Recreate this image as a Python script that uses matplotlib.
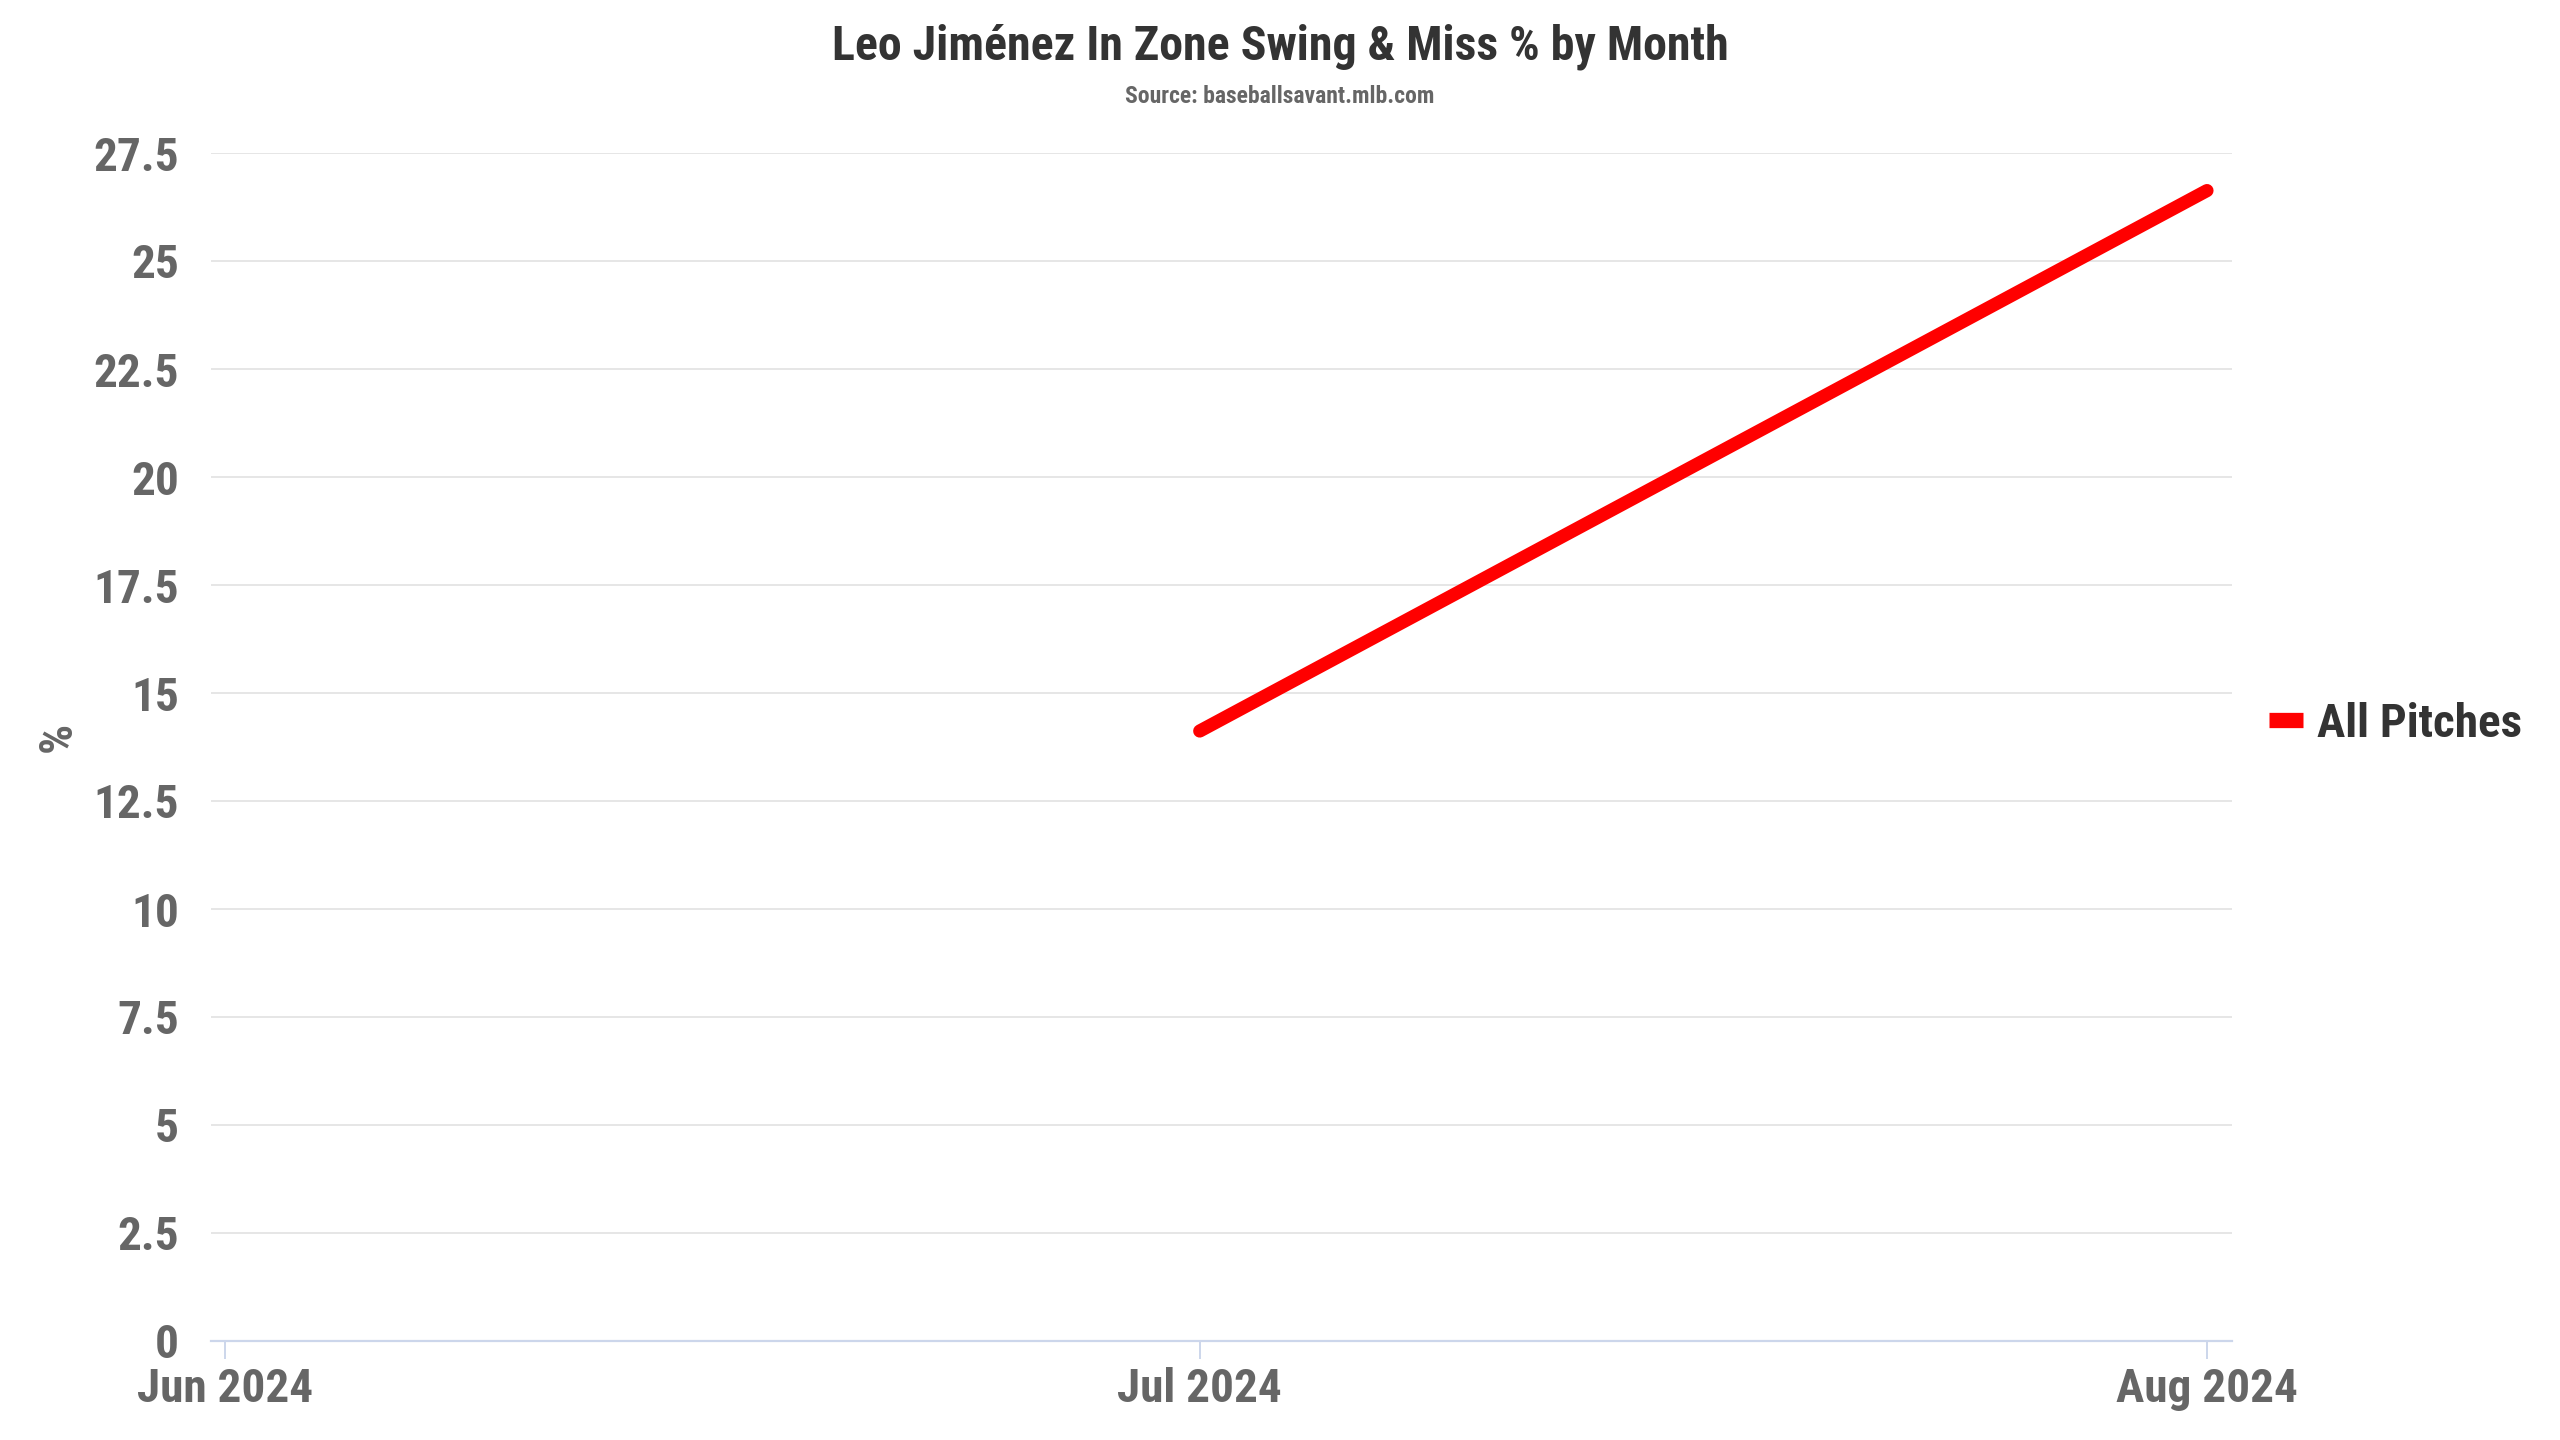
import datetime as dt
import matplotlib
matplotlib.use("Agg")
import matplotlib.pyplot as plt
import matplotlib.dates as mdates
from matplotlib import font_manager
from matplotlib.lines import Line2D

# ---- data ----
months = [dt.datetime(2024, 7, 1), dt.datetime(2024, 8, 1)]
all_pitches = [14.12, 26.63]
tick_dates = [dt.datetime(2024, 6, 1), dt.datetime(2024, 7, 1), dt.datetime(2024, 8, 1)]
tick_labels = ["Jun 2024", "Jul 2024", "Aug 2024"]
y_ticks = [0, 2.5, 5, 7.5, 10, 12.5, 15, 17.5, 20, 22.5, 25, 27.5]
y_tick_labels = ["0", "2.5", "5", "7.5", "10", "12.5", "15", "17.5", "20", "22.5", "25", "27.5"]
series_name = "All Pitches"
title = "Leo Jiménez In Zone Swing & Miss % by Month"
subtitle = "Source: baseballsavant.mlb.com"

names = {f.name for f in font_manager.fontManager.ttflist}
fam = "Roboto Condensed" if "Roboto Condensed" in names else "Roboto"
plt.rcParams["font.family"] = [fam, "DejaVu Sans"]
plt.rcParams["font.weight"] = "bold"

fig = plt.figure(figsize=(25.6, 14.4), dpi=100)
ax = fig.add_axes([211 / 2560, 1 - 1341 / 1440, (2232 - 211) / 2560, (1341 - 153) / 1440])

ax.plot(months, all_pitches, color="#ff0000", lw=9.5, solid_capstyle="round", zorder=3)

ax.set_ylim(0, 27.5)
x0 = mdates.date2num(tick_dates[0]) - 0.43
x1 = mdates.date2num(tick_dates[-1]) + 0.77
ax.set_xlim(x0, x1)

ax.set_yticks(y_ticks)
ax.set_yticklabels(y_tick_labels)
ax.set_xticks(tick_dates)
ax.set_xticklabels(tick_labels)

ax.grid(axis="y", color="#e6e6e6", lw=1.4, zorder=0)
ax.tick_params(axis="y", length=0, pad=23, labelsize=34, labelcolor="#666666")
ax.tick_params(axis="x", length=13, width=1.4, color="#ccd6eb", pad=6, labelsize=34, labelcolor="#666666")
for s in ["top", "right", "left"]:
    ax.spines[s].set_visible(False)
ax.spines["bottom"].set_color("#ccd6eb")
ax.spines["bottom"].set_linewidth(1.6)
for lab in ax.get_xticklabels() + ax.get_yticklabels():
    lab.set_fontweight("bold")

fig.text(58 / 2560, 1 - 737 / 1440, "%", rotation=90, ha="center", va="center",
         fontsize=34, color="#666666", fontweight="bold")

fig.text(0.5, 1 - 60 / 1440, title, ha="center", va="baseline", fontsize=34.5,
         color="#333333", fontweight="bold")
fig.text(0.5, 1 - 103 / 1440, subtitle, ha="center", va="baseline", fontsize=17,
         color="#666666", fontweight="bold")

handle = Line2D([0], [0], color="#ff0000", lw=11, solid_capstyle="butt")
leg = fig.legend([handle], [series_name], loc="center left",
                 bbox_to_anchor=(2269 / 2560, 1 - 724 / 1440), frameon=False,
                 fontsize=34, handlelength=0.72, handletextpad=0.3,
                 borderaxespad=0, borderpad=0)
for t in leg.get_texts():
    t.set_color("#333333")
    t.set_fontweight("bold")

fig.savefig("out.png", dpi=100, facecolor="white")
